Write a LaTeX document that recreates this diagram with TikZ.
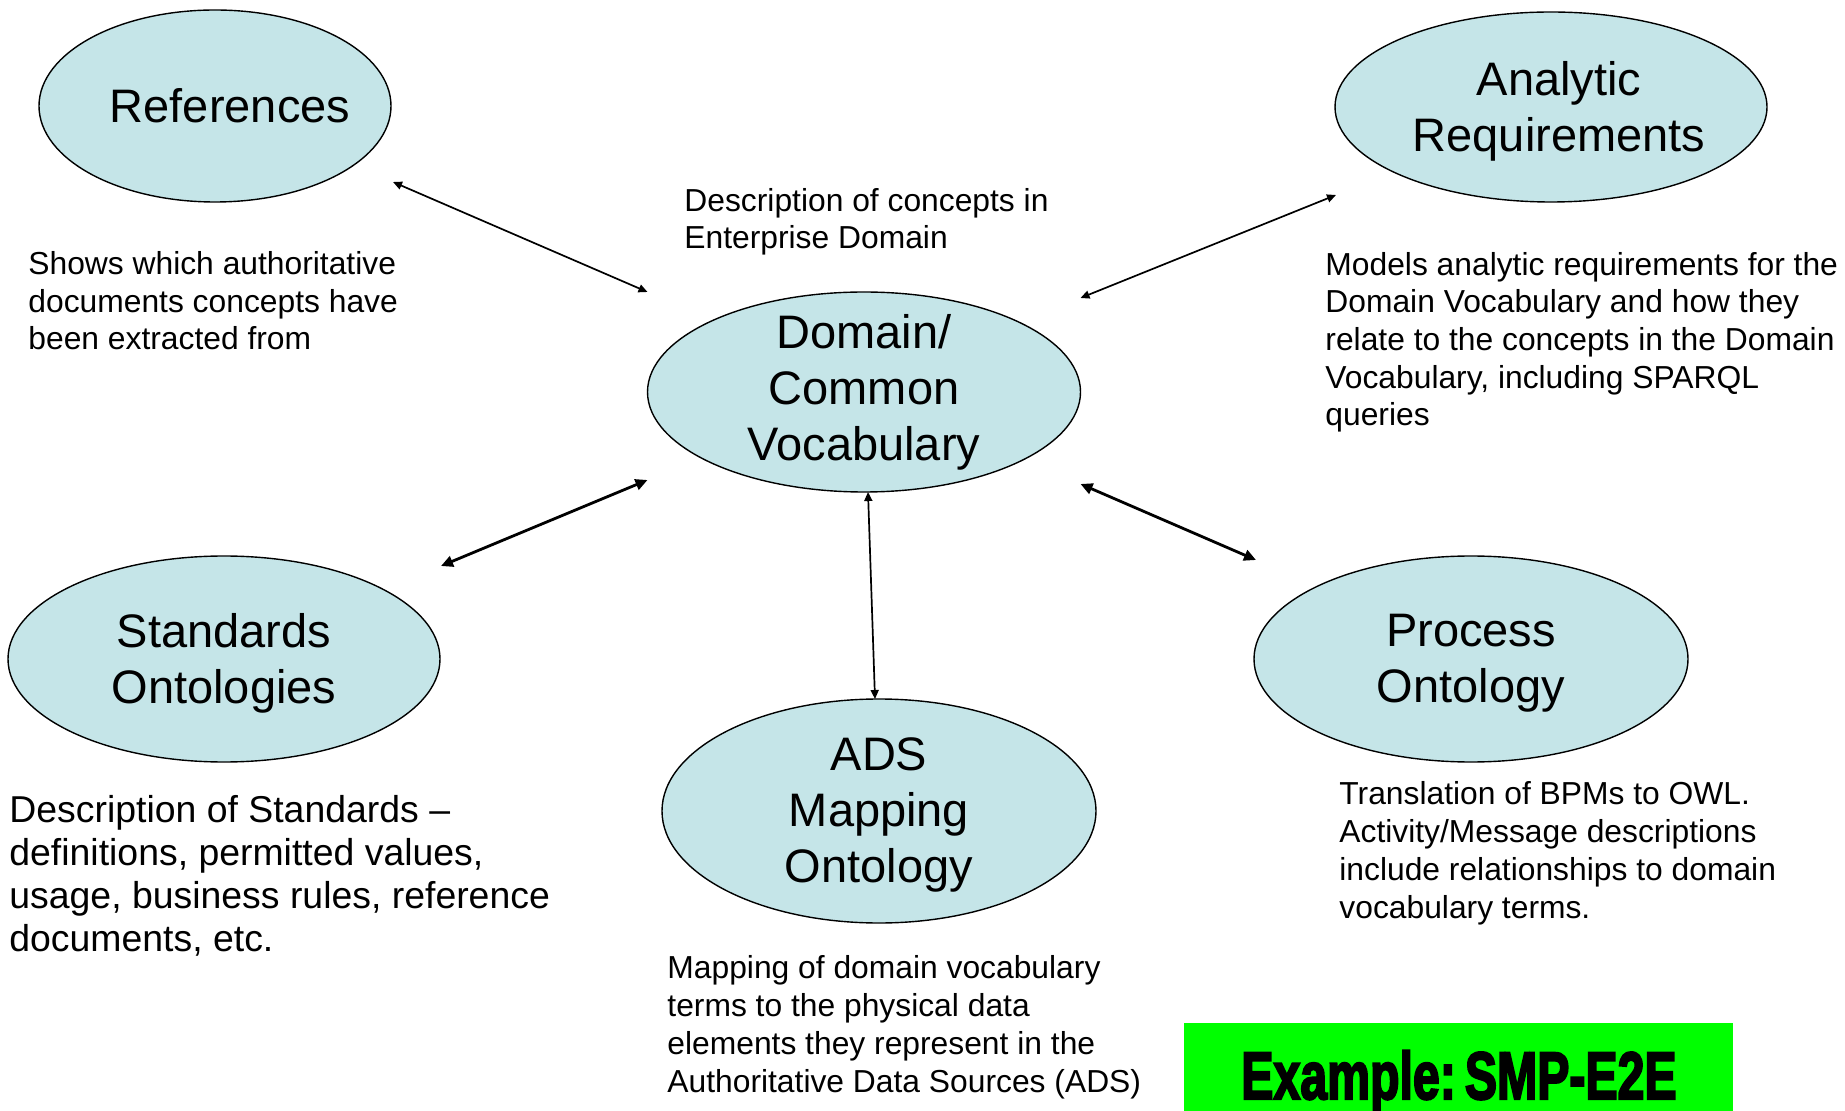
\documentclass[tikz,border=0pt]{standalone}
\usepackage{fontspec}
\setmainfont{Liberation Sans}
\newfontfamily\bannerfont{Liberation Sans}[FakeBold=3.5]
\usetikzlibrary{arrows.meta,calc,shapes.geometric}
\definecolor{bubblefill}{RGB}{197,229,232}
\definecolor{bannergreen}{RGB}{0,255,0}
\tikzset{
  bubble/.style={ellipse, draw=black, line width=0.7pt, fill=bubblefill,
    inner sep=0pt, outer sep=0pt},
  bubbletext/.style={align=center, inner sep=0pt, yshift=-2pt,
    font=\fontsize{23.5pt}{28pt}\selectfont},
  note/.style={anchor=base west, align=left, inner sep=0pt,
    font=\fontsize{15.9pt}{18.85pt}\selectfont},
  link/.style={{Triangle[length=4.5pt,width=4pt]}-{Triangle[length=4.5pt,width=4pt]},
    line width=0.85pt},
  boldlink/.style={{Triangle[length=6pt,width=5.5pt]}-{Triangle[length=6pt,width=5.5pt]},
    line width=1.4pt}
}
\begin{document}
\begin{tikzpicture}[x=0.5pt,y=-0.5pt]
\useasboundingbox (0,0) rectangle (1845,1111);

% ontology bubbles (size fixed, text laid on top as a centred label)
\node[bubble, minimum width=176pt, minimum height=96pt,
  label={[bubbletext, name=reftext, xshift=7.5pt, yshift=2pt]center:References}] (ref) at (215,106) {};
\node[bubble, minimum width=216pt, minimum height=95pt,
  label={[bubbletext, name=anatext, xshift=4pt]center:Analytic\\Requirements}] (ana) at (1551,107) {};
\node[bubble, minimum width=216.5pt, minimum height=100pt,
  label={[bubbletext, name=domtext, yshift=2pt]center:Domain/\\Common\\Vocabulary}] (dom) at (864,392) {};
\node[bubble, minimum width=216pt, minimum height=103pt,
  label={[bubbletext, name=stdtext]center:Standards\\Ontologies}] (std) at (224,659) {};
\node[bubble, minimum width=217pt, minimum height=112pt,
  label={[bubbletext, name=adstext]center:ADS\\Mapping\\Ontology}] (ads) at (879,811) {};
\node[bubble, minimum width=217pt, minimum height=103pt,
  label={[bubbletext, name=proctext]center:Process\\Ontology}] (proc) at (1471,659) {};

% two-way links to the common vocabulary
\draw[link] ($(ref.east |- ref.south)+(2,-20)$) -- (dom.west |- dom.north);
\draw[link] ($(dom.east |- dom.north)+(0,6)$) -- ($(ana.west |- ana.south)+(1,-7)$);
\draw[boldlink] ($(std.east |- std.north)+(1,10)$) -- ($(dom.west |- dom.south)+(0,-12)$);
\draw[link] ($(dom.south)+(4,0)$) -- ($(ads.north)+(-4,0)$);
\draw[boldlink] ($(dom.east |- dom.south)+(0,-8)$) -- ($(proc.west |- proc.north)+(2,4)$);

% descriptions (placed by the baseline of their last line)
\node[note] (domnote) at (684,249) {Description of concepts in\\Enterprise Domain};
\node[note] (refnote) at (28,350) {Shows which authoritative\\documents concepts have\\been extracted from};
\node[note] (ananote) at (1325,426) {Models analytic requirements for the\\Domain Vocabulary and how they\\relate to the concepts in the Domain\\Vocabulary, including SPARQL\\queries};
\node[note, font=\fontsize{18.7pt}{21.4pt}\selectfont] (stdnote) at (9,951) {Description of Standards –\\definitions, permitted values,\\usage, business rules, reference\\documents, etc.};
\node[note] (adsnote) at (667,1092) {Mapping of domain vocabulary\\terms to the physical data\\elements they represent in the\\Authoritative Data Sources (ADS)};
\node[note] (procnote) at (1339,918) {Translation of BPMs to OWL.\\Activity/Message descriptions\\include relationships to domain\\vocabulary terms.};

% example banner
\node[fill=bannergreen, minimum width=274.5pt, minimum height=44pt, inner sep=0pt, anchor=south west] (banner) at (1184,1111) {};
\node[anchor=base, inner sep=0pt] (bannertext) at (1459,1099)
  {\bannerfont\bfseries\fontsize{33.5pt}{36pt}\selectfont\scalebox{0.72}[1]{Example:\kern-3pt\ SMP-E2E}};
\end{tikzpicture}
\end{document}
